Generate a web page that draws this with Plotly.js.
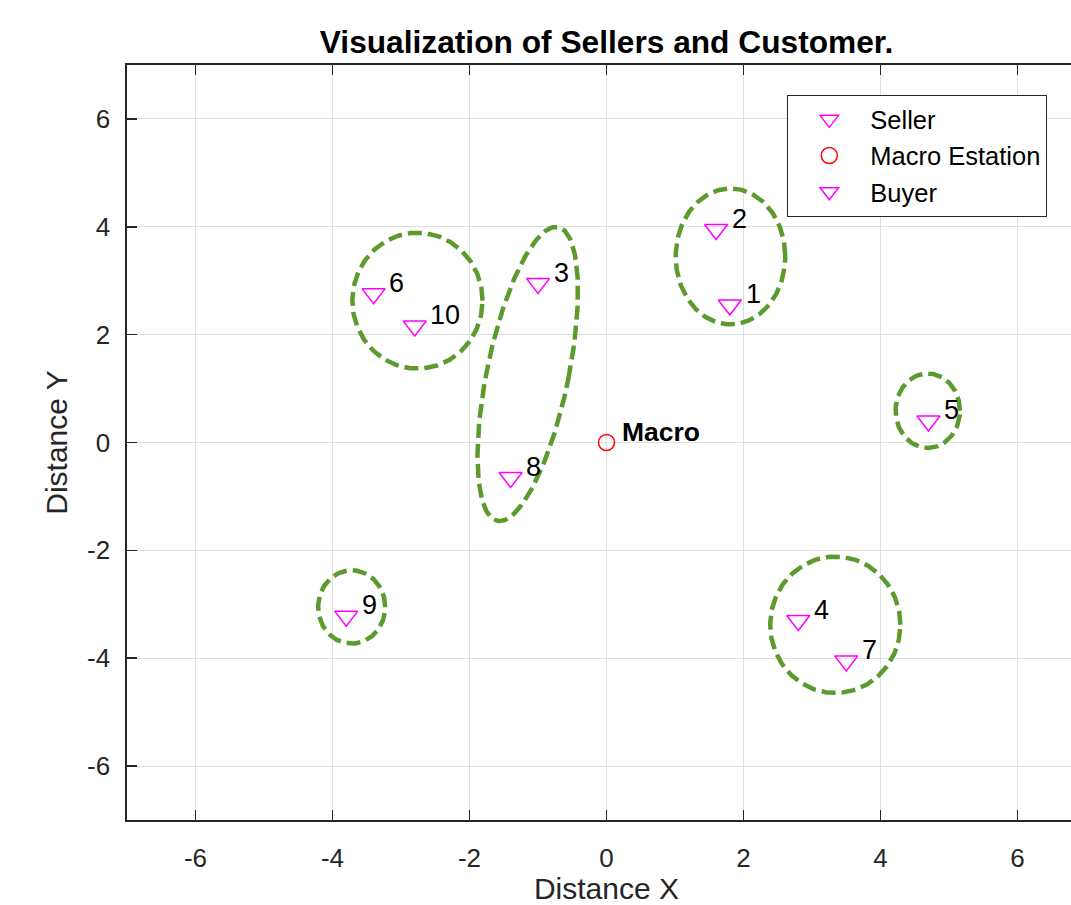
<!DOCTYPE html>
<html>
<head>
<meta charset="utf-8">
<script src="https://cdn.plot.ly/plotly-3.0.1.min.js"></script>
<style>
  html, body { margin: 0; padding: 0; overflow: hidden; background: #ffffff; }
</style>
</head>
<body>
<div id="chart"></div>
<script>
// Node positions (distance units)
const sellerIds = [1, 2, 3, 4, 5];
const sellerX = [1.8, 1.6, -1.0, 2.8, 4.7];
const sellerY = [2.55, 3.95, 2.95, -3.3, 0.4];

const buyerIds = [6, 7, 8, 9, 10];
const buyerX = [-3.4, 3.5, -1.4, -3.8, -2.8];
const buyerY = [2.76, -4.05, -0.65, -3.22, 2.16];

const macroX = [0];
const macroY = [0];
const macroName = 'Macro';

// Coalition boundaries: centre, semi-axes and tilt (degrees)
const clusterCx = [1.81, -2.76, -1.15, 4.69, 3.34, -3.72];
const clusterCy = [3.45, 2.63, 1.27, 0.59, -3.38, -3.05];
const clusterRx = [0.80, 0.95, 0.60, 0.47, 0.95, 0.49];
const clusterRy = [1.26, 1.26, 2.76, 0.69, 1.265, 0.68];
const clusterTilt = [0, 0, -9, 0, 0, 0];

const xTicks = [-6, -4, -2, 0, 2, 4, 6];
const yTicks = [-6, -4, -2, 0, 2, 4, 6];

const FONT = '"Liberation Sans", Arial, Helvetica, sans-serif';
const AXIS_COLOR = '#262626';
const LABEL_DX = 0.2, LABEL_DY = 0.2;

const traces = [];

// dashed boundary around each group
for (let i = 0; i < clusterCx.length; i++) {
  const xs = [], ys = [];
  const th = clusterTilt[i] * Math.PI / 180;
  const n = 240;
  for (let k = 0; k <= n; k++) {
    const t = 2 * Math.PI * k / n;
    const u = clusterRx[i] * Math.cos(t);
    const v = clusterRy[i] * Math.sin(t);
    xs.push(clusterCx[i] + u * Math.cos(th) - v * Math.sin(th));
    ys.push(clusterCy[i] + u * Math.sin(th) + v * Math.cos(th));
  }
  traces.push({
    type: 'scatter', mode: 'lines', x: xs, y: ys,
    line: { color: '#5c9a2e', width: 4.5, dash: '14px,6px' },
    showlegend: false, hoverinfo: 'skip'
  });
}

const triMarker = {
  symbol: 'triangle-down-open', size: 20, color: '#ff00ff',
  line: { color: '#ff00ff', width: 1.5 }
};

traces.push({
  type: 'scatter', mode: 'markers', name: 'Seller',
  x: sellerX, y: sellerY, marker: triMarker
});
traces.push({
  type: 'scatter', mode: 'markers', name: 'Macro Estation',
  x: macroX, y: macroY,
  marker: { symbol: 'circle-open', size: 16, color: '#ff0000', line: { color: '#ff0000', width: 1.5 } }
});
traces.push({
  type: 'scatter', mode: 'markers', name: 'Buyer',
  x: buyerX, y: buyerY, marker: triMarker
});

// id labels next to every node
const annotations = [];
function addLabels(ids, xs, ys) {
  ids.forEach((id, i) => {
    annotations.push({
      x: xs[i] + LABEL_DX, y: ys[i] + LABEL_DY, xref: 'x', yref: 'y',
      text: String(id), showarrow: false, xanchor: 'left', yanchor: 'middle',
      font: { family: FONT, size: 27, color: '#000000' }
    });
  });
}
addLabels(sellerIds, sellerX, sellerY);
addLabels(buyerIds, buyerX, buyerY);
annotations.push({
  x: macroX[0] + LABEL_DX, y: macroY[0] + LABEL_DY, xref: 'x', yref: 'y',
  text: '<b>' + macroName + '</b>', showarrow: false, xanchor: 'left', yanchor: 'middle',
  font: { family: FONT, size: 26.5, color: '#000000' }
});

const axisCommon = {
  range: [-7, 7], autorange: false, zeroline: false,
  showgrid: true, gridcolor: '#dfdfdf', gridwidth: 1,
  showline: true, linecolor: AXIS_COLOR, linewidth: 1.6, mirror: 'ticks',
  ticks: 'inside', ticklen: 10, tickwidth: 1.6, tickcolor: AXIS_COLOR,
  tickfont: { family: FONT, size: 26, color: AXIS_COLOR },
  automargin: false
};

const layout = {
  width: 1086, height: 905,
  margin: { l: 127, r: 0, t: 65, b: 85 },
  paper_bgcolor: '#ffffff', plot_bgcolor: '#ffffff',
  title: {
    text: '<b>Visualization of Sellers and Customer.</b>',
    font: { family: FONT, size: 31.7, color: '#000000' },
    x: 0.5, xref: 'paper', y: 1 - 42 / 905, yref: 'container', yanchor: 'middle'
  },
  xaxis: Object.assign({}, axisCommon, {
    tickvals: xTicks, ticktext: xTicks.map(String), ticklabelstandoff: 14,
    title: { text: 'Distance X', font: { family: FONT, size: 30, color: AXIS_COLOR }, standoff: 16 }
  }),
  yaxis: Object.assign({}, axisCommon, {
    tickvals: yTicks, ticktext: yTicks.map(String), ticklabelstandoff: 10,
    title: { text: 'Distance Y', font: { family: FONT, size: 30, color: AXIS_COLOR }, standoff: 10 }
  }),
  legend: {
    x: 0.6882, y: 0.9603, xanchor: 'left', yanchor: 'top',
    bgcolor: '#ffffff', bordercolor: AXIS_COLOR, borderwidth: 1.3,
    font: { family: FONT, size: 25.5, color: '#000000' },
    itemwidth: 72, traceorder: 'normal'
  },
  annotations: annotations,
  showlegend: true
};

Plotly.newPlot('chart', traces, layout, { staticPlot: true, displayModeBar: false });
</script>
</body>
</html>
